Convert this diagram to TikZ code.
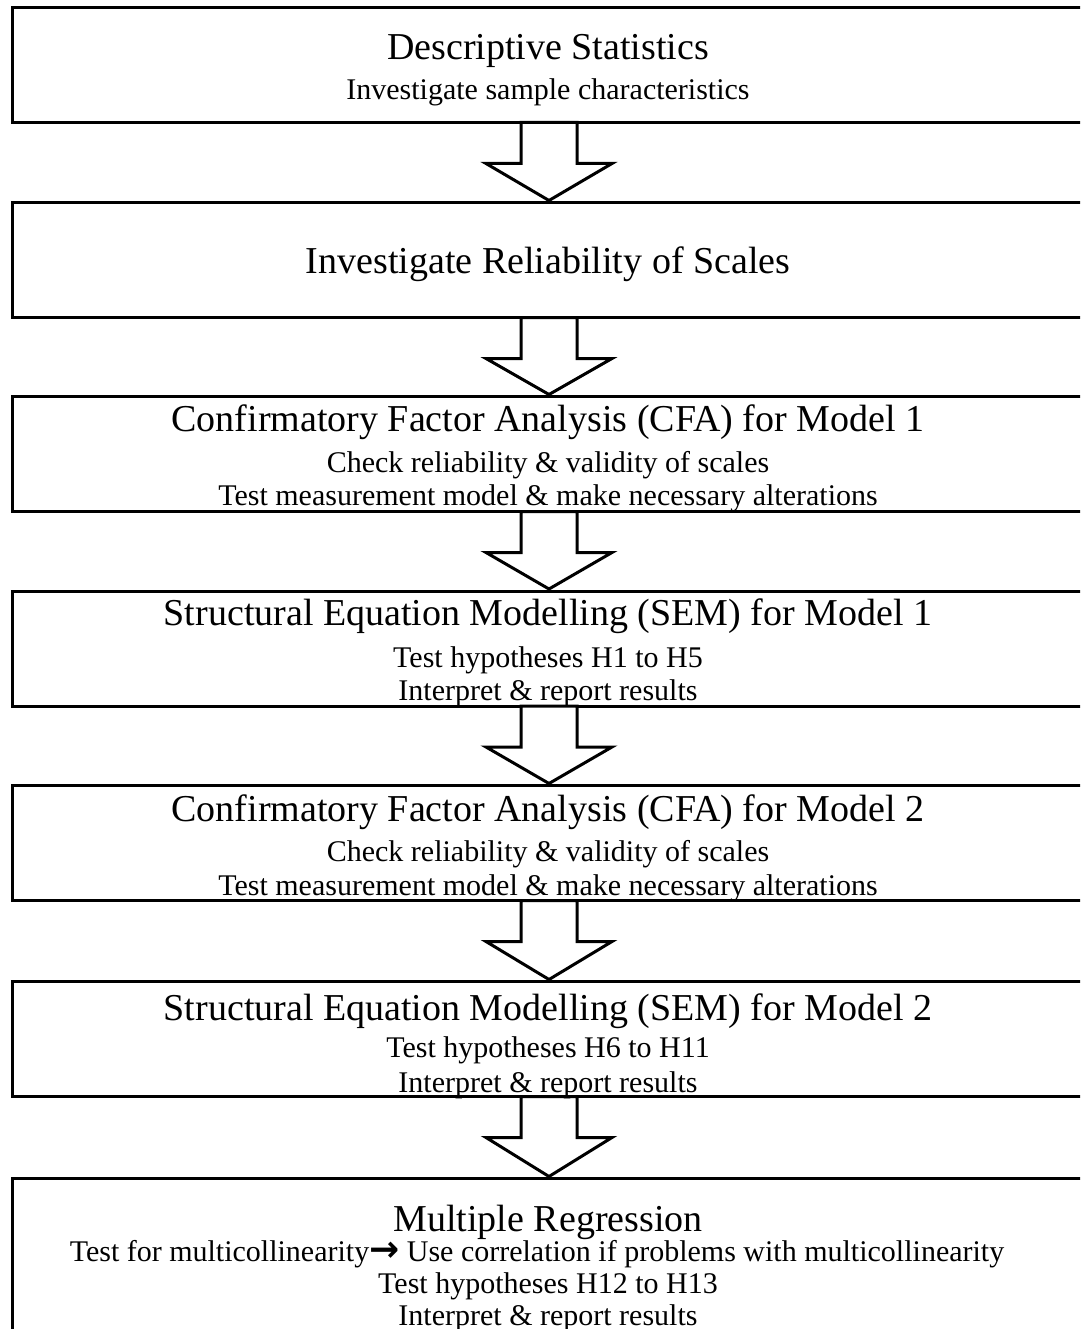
\documentclass[tikz,border=0pt]{standalone}
\usepackage{fontspec}
\setmainfont{Liberation Serif}
\newfontfamily\arrowfont{DejaVu Sans}
\usetikzlibrary{calc}
\begin{document}
\begin{tikzpicture}[x=1pt,y=-1pt,
  stage/.style={draw=black, line width=3pt, rectangle, minimum width=1080pt,
    minimum height=115pt, anchor=north west, inner sep=0pt, outer sep=0pt},
  ttl/.style={font=\fontsize{38}{40}\selectfont, anchor=base, inner sep=0pt},
  sub/.style={font=\fontsize{30}{32}\selectfont, anchor=base, inner sep=0pt},
  flow/.style={draw=black, fill=white, line width=3pt, line join=miter}]
\useasboundingbox (0,0) rectangle (1080,1329);
\clip (0,0) rectangle (1080,1329);

% stage boxes (the right side runs off the page)
\node[stage] (b1) at (12,7.5) {};
\node[stage] (b2) at (12,202.5) {};
\node[stage] (b3) at (12,396.5) {};
\node[stage] (b4) at (12,591) {};
\node[stage] (b5) at (12,785.5) {};
\node[stage] (b6) at (12,981.5) {};
\node[stage, minimum height=200pt] (b7) at (12,1178.5) {};

% hollow block arrows between consecutive stages
\foreach \a/\b in {b1/b2,b2/b3,b3/b4,b4/b5,b5/b6,b6/b7}{
  \draw[flow] let \p1=($(\a.south west)+(537,0)$), \p2=($(\b.north west)+(537,-2)$) in
    (\x1-28pt,\y1) -- (\x1+28pt,\y1) -- (\x1+28pt,\y1-41pt) -- (\x1+63pt,\y1-41pt)
    -- (\x2,\y2) -- (\x1-63pt,\y1-41pt) -- (\x1-28pt,\y1-41pt) -- cycle;
}

% stage texts
\node[ttl] (t1a) at (548,60) {Descriptive Statistics};
\node[sub] (t1b) at (548,100) {Investigate sample characteristics};

\node[ttl] (t2a) at (548,274) {Investigate Reliability of Scales};

\node[ttl] (t3a) at (548,431) {Confirmatory Factor Analysis (CFA) for Model 1};
\node[sub] (t3b) at (548,472) {Check reliability \& validity of scales};
\node[sub] (t3c) at (548,505) {Test measurement model \& make necessary alterations};

\node[ttl] (t4a) at (548,625) {Structural Equation Modelling (SEM) for Model 1};
\node[sub] (t4b) at (548,667) {Test hypotheses H1 to H5};
\node[sub] (t4c) at (548,700) {Interpret \& report results};

\node[ttl] (t5a) at (548,821) {Confirmatory Factor Analysis (CFA) for Model 2};
\node[sub] (t5b) at (548,861) {Check reliability \& validity of scales};
\node[sub] (t5c) at (548,895) {Test measurement model \& make necessary alterations};

\node[ttl] (t6a) at (548,1020) {Structural Equation Modelling (SEM) for Model 2};
\node[sub] (t6b) at (548,1057) {Test hypotheses H6 to H11};
\node[sub] (t6c) at (548,1092) {Interpret \& report results};

\node[ttl] (t7a) at (548,1231) {Multiple Regression};
\node[sub] (t7b) at (537,1261) {Test for multicollinearity{\arrowfont\bfseries\fontsize{36}{36}\selectfont→} Use correlation if problems with multicollinearity};
\node[sub] (t7c) at (548,1293) {Test hypotheses H12 to H13};
\node[sub] (t7d) at (548,1325) {Interpret \& report results};
\end{tikzpicture}
\end{document}
